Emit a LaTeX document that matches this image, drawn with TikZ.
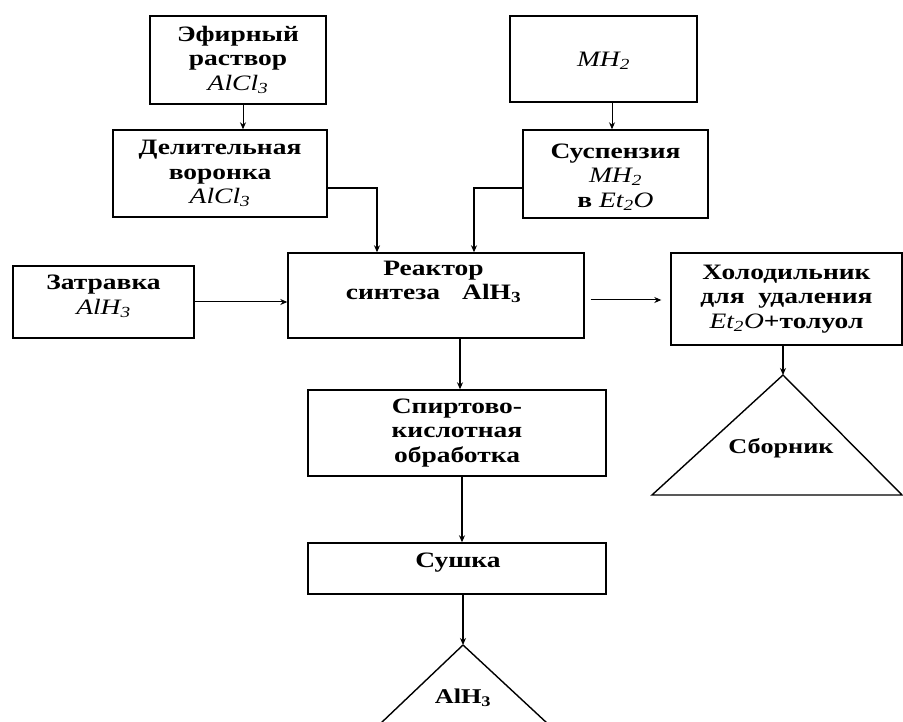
\documentclass[tikz,border=0pt]{standalone}
\usepackage{fontspec}
\setmainfont{Liberation Serif}[FakeStretch=1.25]
\usetikzlibrary{arrows.meta}
\tikzset{
  blk/.style={draw, line width=1.4pt, align=center, inner sep=0pt,
    font=\bfseries\fontsize{22}{24.5}\selectfont},
  tri/.style={draw, line width=1.4pt},
  tlab/.style={align=center, inner sep=0pt, font=\bfseries\fontsize{21}{23}\selectfont},
  arr/.style={line width=1pt, -{Stealth[length=7pt,width=6pt]}},
  arrb/.style={line width=1.6pt, -{Stealth[length=7pt,width=6pt]}}
}
\newcommand{\formit}[1]{\textit{\mdseries #1}}
\begin{document}
\begin{tikzpicture}[x=1pt,y=-1pt]
\useasboundingbox (0,0) rectangle (903,722);
\node[blk, minimum width=176, minimum height=88] (e1) at (238,60) {Эфирный\\раствор\\\formit{AlCl\textsubscript{3}}};
\node[blk, minimum width=214, minimum height=87] (d1) at (220,173.5) {Делительная\\воронка\\\formit{AlCl\textsubscript{3}}};
\node[blk, minimum width=187, minimum height=86] (m1) at (603.5,59) {};
\node[blk, draw=none] (m1t) at (603.5,61) {\formit{MH\textsubscript{2}}};
\node[blk, minimum width=185, minimum height=88] (s1) at (615.5,174) {};
\node[blk, draw=none] (s1t) at (615.5,177) {Суспензия\\\formit{MH\textsubscript{2}}\\в \formit{Et\textsubscript{2}O}};
\node[blk, minimum width=181, minimum height=72] (z1) at (103.5,302) {};
\node[blk, draw=none] (z1t) at (103.5,296.5) {Затравка\\\formit{AlH\textsubscript{3}}};
\node[blk, minimum width=296, minimum height=85] (r1) at (436,295.5) {};
\node[blk, draw=none] (r1t) at (433.5,282) {Реактор\\синтеза\quad AlH\textsubscript{3}};
\node[blk, minimum width=231, minimum height=92] (h1) at (786.5,299) {Холодильник\\для\ \ удаления\\\formit{Et\textsubscript{2}O}+толуол};
\node[blk, minimum width=298, minimum height=86] (sp) at (457,433) {Спиртово-\\кислотная\\обработка};
\node[blk, minimum width=298, minimum height=51] (su) at (457,568.5) {};
\node[blk, draw=none] (sut) at (458,562.5) {Сушка};
% triangles
\coordinate (t1) at (783,375);
\draw[tri] (t1) -- (652,495) -- (902,495) -- cycle;
\node[tlab] (sb) at (781,448) {Сборник};
\coordinate (t2) at (463,645);
\draw[tri] (t2) -- (380,724) (t2) -- (548,724);
\node[tlab] (al) at (463,698) {AlH\textsubscript{3}};
% connectors
\draw[arr] ([xshift=5]e1.south) -- ([xshift=5]e1.south |- d1.north);
\draw[arr] ([xshift=8.5]m1.south) -- ([xshift=8.5]m1.south |- s1.north);
\draw[line width=1.3pt, -{Stealth[length=7pt,width=6pt]}] ([yshift=-14.5]d1.east) -| ([xshift=-59]r1.north);
\draw[line width=1.6pt, -{Stealth[length=7pt,width=6pt]}] ([yshift=-14]s1.west) -| ([xshift=38]r1.north);
\draw[arr] (z1.east) -- (z1.east -| r1.west);
\draw[arr] ([xshift=6,yshift=-4.5]r1.east) -- ([xshift=-9,yshift=-1]h1.west);
\draw[arrb] ([xshift=-3.5]h1.south) -- (t1);
\draw[arrb] ([xshift=24]r1.south) -- ([xshift=24]r1.south |- sp.north);
\draw[arrb] ([xshift=5]sp.south) -- ([xshift=5]sp.south |- su.north);
\draw[arrb] ([xshift=6]su.south) -- (t2);
\end{tikzpicture}
\end{document}
